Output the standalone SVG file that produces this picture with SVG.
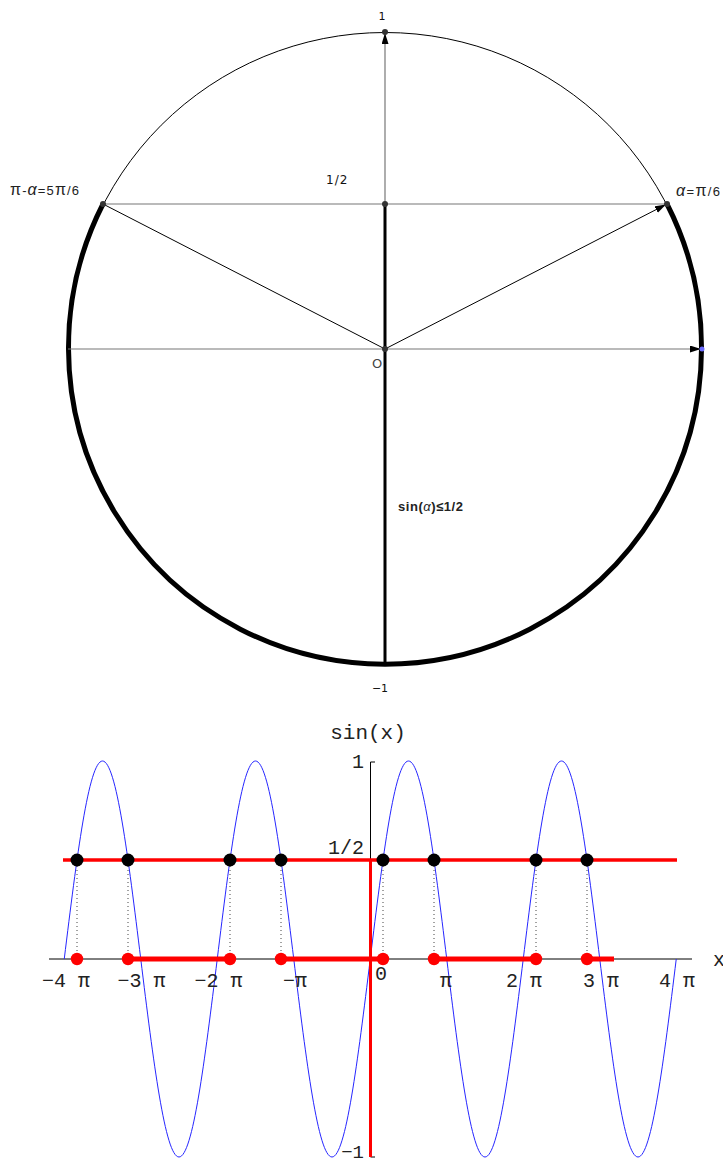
<svg xmlns="http://www.w3.org/2000/svg" width="723" height="1165" viewBox="0 0 723 1165">
<style>
.sans{font-family:"DejaVu Sans","Liberation Sans",sans-serif;fill:#111}
.lab{font-family:"Liberation Sans",Arial,sans-serif;fill:#222}
.mono{font-family:"Liberation Mono","Courier New",monospace;font-size:20px;fill:#222}
.thin{stroke:#000;stroke-width:1;fill:none}
.gray{stroke:#777;stroke-width:1.2;fill:none}
.dot{fill:#333}
.red{stroke:#ff0000;fill:none}
.rdot{fill:#ff0000}
.bdot{fill:#000}
.dotted{stroke:#444;stroke-width:1;stroke-dasharray:1 3;fill:none}
</style>
<defs>
<marker id="arr" markerUnits="userSpaceOnUse" markerWidth="12" markerHeight="8" refX="11" refY="3.5" orient="auto">
<path d="M0,0 L11,3.5 L0,7 z" fill="#000"/>
</marker>
</defs>
<rect width="723" height="1165" fill="#fff"/>

<!-- Unit circle diagram -->
<g id="circle">
<circle cx="385" cy="349" r="316.5" class="thin"/>
<path d="M667,204 A316.5,316.5 0 1 1 103,204" fill="none" stroke="#000" stroke-width="5"/>
</g>
<g id="connectors-circle">
<line x1="68" y1="349" x2="701" y2="349" class="gray" marker-end="url(#arr)"/>
<line x1="103" y1="204" x2="667" y2="204" class="gray"/>
<line x1="385" y1="204" x2="385" y2="33" class="gray" marker-end="url(#arr)"/>
<line x1="385" y1="349" x2="666" y2="204.5" class="thin" marker-end="url(#arr)"/>
<line x1="385" y1="349" x2="103" y2="204" class="thin"/>
<line x1="385" y1="204" x2="385" y2="665" stroke="#000" stroke-width="3"/>
</g>
<g id="points-circle">
<circle cx="385" cy="32" r="3" class="dot"/>
<circle cx="385" cy="204" r="3" class="dot"/>
<circle cx="385" cy="349" r="3" class="dot"/>
<circle cx="103" cy="204" r="3" class="dot"/>
<circle cx="667" cy="204" r="3" class="dot"/>
<circle cx="702" cy="349" r="2.5" fill="#6b6bff"/>
</g>
<g id="labels-circle">
<text x="382" y="20" class="sans" font-size="11" text-anchor="middle">1</text>
<text x="326" y="184" class="sans" font-size="12" letter-spacing="1">1/2</text>
<text x="10" y="195" class="lab" font-size="13" textLength="69"><tspan font-size="16">π</tspan>-<tspan font-size="16" font-style="italic">α</tspan>=5<tspan font-size="16">π</tspan>/6</text>
<text x="676" y="196" class="lab" font-size="13" textLength="44"><tspan font-size="16" font-style="italic">α</tspan>=<tspan font-size="16">π</tspan>/6</text>
<text x="372" y="368" class="sans" font-size="13" style="fill:#444">O</text>
<text x="398" y="511" class="lab" font-size="13" font-weight="bold" textLength="65">sin(<tspan font-style="italic" font-weight="normal">α</tspan>)≤1/2</text>
<text x="380" y="692" class="sans" font-size="11" text-anchor="middle">−1</text>
</g>

<!-- Sine plot -->
<g id="axes">
<line x1="49" y1="959" x2="692" y2="959" class="thin"/>
<line x1="370.5" y1="762" x2="370.5" y2="1157" class="thin"/>
<line x1="370.5" y1="762" x2="375" y2="762" class="thin"/>
<line x1="370.5" y1="1157" x2="375" y2="1157" class="thin"/>
</g>
<g id="sine-curve">
<path fill="none" stroke="#2626ff" stroke-width="1" d="M64.25,959
c12.47,-101.4 24.41,-198 38.25,-198 c13.84,0 25.78,96.6 38.25,198 c12.47,101.4 24.41,198 38.25,198 c13.84,0 25.78,-96.6 38.25,-198
c12.47,-101.4 24.41,-198 38.25,-198 c13.84,0 25.78,96.6 38.25,198 c12.47,101.4 24.41,198 38.25,198 c13.84,0 25.78,-96.6 38.25,-198
c12.47,-101.4 24.41,-198 38.25,-198 c13.84,0 25.78,96.6 38.25,198 c12.47,101.4 24.41,198 38.25,198 c13.84,0 25.78,-96.6 38.25,-198
c12.47,-101.4 24.41,-198 38.25,-198 c13.84,0 25.78,96.6 38.25,198 c12.47,101.4 24.41,198 38.25,198 c13.84,0 25.78,-96.6 38.25,-198"/>
</g>
<g id="connectors-plot">
<line x1="63" y1="860" x2="677" y2="860" class="red" stroke-width="3.5"/>
<line x1="370.5" y1="860" x2="370.5" y2="1157" class="red" stroke-width="3"/>
<line x1="128" y1="959" x2="230" y2="959" class="red" stroke-width="5"/>
<line x1="281" y1="959" x2="383" y2="959" class="red" stroke-width="5"/>
<line x1="434" y1="959" x2="536" y2="959" class="red" stroke-width="5"/>
<line x1="587" y1="959" x2="614" y2="959" class="red" stroke-width="5"/>
<line x1="77" y1="866" x2="77" y2="953" class="dotted"/>
<line x1="128" y1="866" x2="128" y2="953" class="dotted"/>
<line x1="230" y1="866" x2="230" y2="953" class="dotted"/>
<line x1="281" y1="866" x2="281" y2="953" class="dotted"/>
<line x1="383" y1="866" x2="383" y2="953" class="dotted"/>
<line x1="434" y1="866" x2="434" y2="953" class="dotted"/>
<line x1="536" y1="866" x2="536" y2="953" class="dotted"/>
<line x1="587" y1="866" x2="587" y2="953" class="dotted"/>
</g>
<g id="points-plot">
<circle cx="77" cy="860" r="6.5" class="bdot"/>
<circle cx="128" cy="860" r="6.5" class="bdot"/>
<circle cx="230" cy="860" r="6.5" class="bdot"/>
<circle cx="281" cy="860" r="6.5" class="bdot"/>
<circle cx="383" cy="860" r="6.5" class="bdot"/>
<circle cx="434" cy="860" r="6.5" class="bdot"/>
<circle cx="536" cy="860" r="6.5" class="bdot"/>
<circle cx="587" cy="860" r="6.5" class="bdot"/>
<circle cx="77" cy="959" r="6.2" class="rdot"/>
<circle cx="128" cy="959" r="6.2" class="rdot"/>
<circle cx="230" cy="959" r="6.2" class="rdot"/>
<circle cx="281" cy="959" r="6.2" class="rdot"/>
<circle cx="383" cy="959" r="6.2" class="rdot"/>
<circle cx="434" cy="959" r="6.2" class="rdot"/>
<circle cx="536" cy="959" r="6.2" class="rdot"/>
<circle cx="587" cy="959" r="6.2" class="rdot"/>
</g>
<g id="labels-plot">
<text x="368" y="739" class="mono" style="font-size:21px" text-anchor="middle">sin(x)</text>
<text x="364" y="768" class="mono" text-anchor="end">1</text>
<text x="364" y="854" class="mono" text-anchor="end">1/2</text>
<text x="364" y="1158" class="mono" style="font-size:19px" text-anchor="end">−1</text>
<text x="713" y="966" class="mono">x</text>
<text x="66" y="987" class="mono" text-anchor="middle">−4 π</text>
<text x="141.5" y="987" class="mono" text-anchor="middle">−3 π</text>
<text x="218.5" y="987" class="mono" text-anchor="middle">−2 π</text>
<text x="295" y="987" class="mono" text-anchor="middle">−π</text>
<text x="381" y="980" class="mono" text-anchor="middle">0</text>
<text x="446" y="987" class="mono" text-anchor="middle">π</text>
<text x="524" y="987" class="mono" text-anchor="middle">2 π</text>
<text x="601" y="987" class="mono" text-anchor="middle">3 π</text>
<text x="677" y="987" class="mono" text-anchor="middle">4 π</text>
</g>
</svg>
